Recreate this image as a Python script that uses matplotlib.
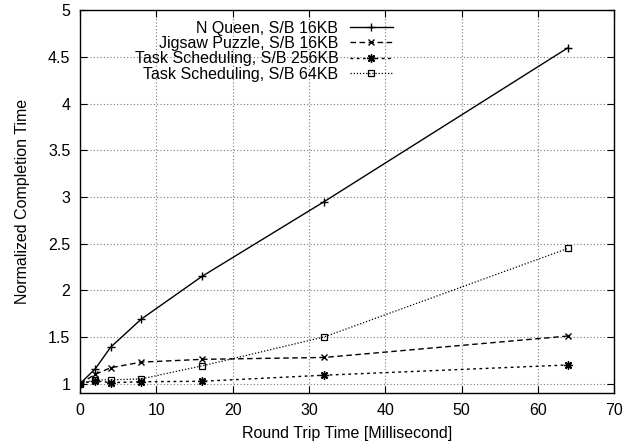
import matplotlib
matplotlib.use("Agg")
import matplotlib.pyplot as plt

plt.rcParams["font.family"] = ["Liberation Sans", "DejaVu Sans"]

# round trip times (ms) and normalized completion times per workload
rtt = [0, 2, 4, 8, 16, 32, 64]
n_queen_16kb = [1.0, 1.16, 1.39, 1.69, 2.15, 2.95, 4.6]
jigsaw_16kb = [1.0, 1.10, 1.17, 1.23, 1.26, 1.28, 1.51]
task_256kb = [1.0, 1.03, 1.01, 1.02, 1.025, 1.09, 1.2]
task_64kb = [1.0, 1.04, 1.04, 1.05, 1.19, 1.5, 2.45]

labels = [
    "N Queen, S/B 16KB",
    "Jigsaw Puzzle, S/B 16KB",
    "Task Scheduling, S/B 256KB",
    "Task Scheduling, S/B 64KB",
]
xticks = [0, 10, 20, 30, 40, 50, 60, 70]
yticks = [1, 1.5, 2, 2.5, 3, 3.5, 4, 4.5, 5]

FS = 11.5

fig = plt.figure(figsize=(6.26, 4.44), dpi=100)
ax = fig.add_axes([0.128, 0.115, 0.853, 0.862])

ax.plot(rtt, n_queen_16kb, color="black", lw=1.0, ls="-",
        marker="+", ms=6, mew=1.0, label=labels[0])
ax.plot(rtt, jigsaw_16kb, color="black", lw=1.0, ls=(0, (4, 2.5)),
        marker="x", ms=5, mew=1.0, label=labels[1])
ax.plot(rtt, task_256kb, color="black", lw=1.0, ls=(0, (2, 2.5)),
        marker=(8, 2, 0), ms=6, mew=1.0, label=labels[2])
ax.plot(rtt, task_64kb, color="black", lw=0.9, ls=(0, (1, 1.5)),
        marker="s", ms=5, mew=0.9, mfc="none", label=labels[3])

ax.set_xlim(0, 70)
ax.set_ylim(0.9, 5)
ax.set_xticks(xticks)
ax.set_yticks(yticks)
ax.set_yticklabels([f"{v:g}" for v in yticks])
ax.tick_params(direction="in", top=True, right=True, labelsize=FS, length=5, pad=7)
ax.grid(True, color="#777777", ls=(0, (1, 2)), lw=0.8)
for s in ax.spines.values():
    s.set_linewidth(1.0)

ax.set_xlabel("Round Trip Time [Millisecond]", fontsize=FS, labelpad=6)
ax.set_ylabel("Normalized Completion Time", fontsize=FS, labelpad=13)

leg = ax.legend(loc="upper right", bbox_to_anchor=(0.605, 1.0), frameon=False,
                markerfirst=False, fontsize=FS, handlelength=2.7,
                labelspacing=0.02, handletextpad=0.7, borderaxespad=0.25)
# right-align each row so the text ends just before its sample line
for col in leg._legend_handle_box.get_children():
    col.align = "right"

fig.savefig("out.png", dpi=100)
